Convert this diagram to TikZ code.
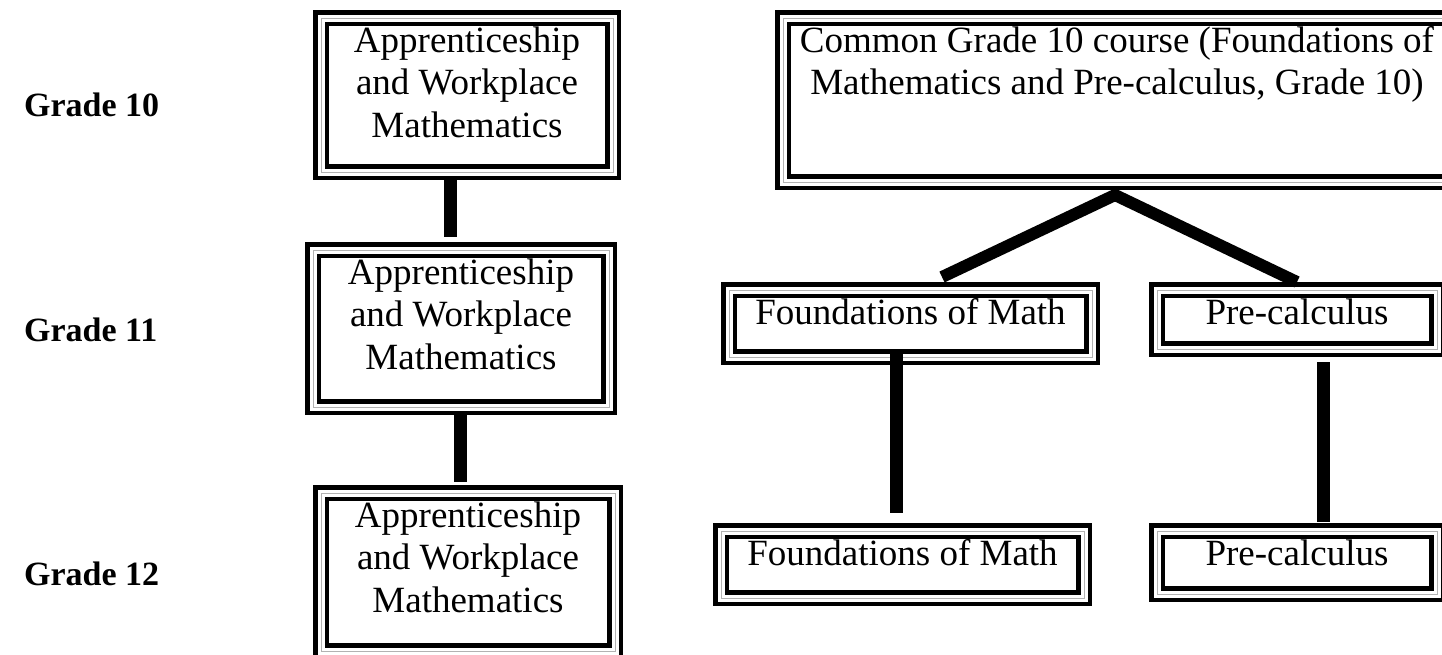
\documentclass[tikz,border=0pt]{standalone}
\usepackage{fontspec}
\setmainfont{Liberation Serif}
\usetikzlibrary{calc}
\newcommand\mystrut{\rule{0pt}{26pt}}
\begin{document}
\begin{tikzpicture}[x=1pt,y=-1pt,
  dbox/.style={draw=black, line width=4.5pt, double=white, double distance=7pt,
               rectangle, inner sep=0pt, outer sep=0pt},
  grayline/.style={draw=gray!60, line width=0.8pt},
  btext/.style={font=\fontsize{37}{42.5}\selectfont, align=center, inner sep=0pt, anchor=north},
  glabel/.style={font=\fontsize{34}{40}\selectfont\bfseries, inner sep=0pt, anchor=base west},
  conn/.style={draw=black, line width=13pt},
]
\useasboundingbox (0,0) rectangle (1442,654);
\clip (0,0) rectangle (1442,654);
\fill[white] (0,0) rectangle (1442,654);

% grade labels
\node[glabel] (g10) at (24,116) {Grade 10};
\node[glabel] (g11) at (24,341) {Grade 11};
\node[glabel] (g12) at (24,585) {Grade 12};

% boxes
\node[dbox, minimum width=292pt, minimum height=154pt] (a1) at (467,95) {};
\node[dbox, minimum width=296pt, minimum height=157pt] (a2) at (461,328.5) {};
\node[dbox, minimum width=294pt, minimum height=158pt] (a3) at (468,572) {};
\node[dbox, minimum width=668pt, minimum height=164pt] (cm) at (1117,100) {};
\node[dbox, minimum width=363pt, minimum height=67pt] (f11) at (910.5,323.5) {};
\node[dbox, minimum width=280pt, minimum height=59pt] (p11) at (1297,319.5) {};
\node[dbox, minimum width=363pt, minimum height=67pt] (f12) at (902.5,564.5) {};
\node[dbox, minimum width=280pt, minimum height=63pt] (p12) at (1297,562.5) {};

\foreach \n in {a1,a2,a3,cm,f11,p11,f12,p12}
  \draw[grayline] (\n.south west) rectangle (\n.north east);

% texts
\node[btext] (a1t) at ([yshift=-8pt]a1.north) {\mystrut Apprenticeship\\and Workplace\\Mathematics};
\node[btext] (a2t) at ([yshift=-8pt]a2.north) {\mystrut Apprenticeship\\and Workplace\\Mathematics};
\node[btext] (a3t) at ([yshift=-8pt]a3.north) {\mystrut Apprenticeship\\and Workplace\\Mathematics};
\node[btext] (cmt) at ([yshift=-8pt]cm.north) {\mystrut Common Grade 10 course (Foundations of\\Mathematics and Pre-calculus, Grade 10)};
\node[btext] (f11t) at ([yshift=-8pt]f11.north) {\mystrut Foundations of Math};
\node[btext] (p11t) at ([yshift=-8pt]p11.north) {\mystrut Pre-calculus};
\node[btext] (f12t) at ([yshift=-8pt]f12.north) {\mystrut Foundations of Math};
\node[btext] (p12t) at ([yshift=-8pt]p12.north) {\mystrut Pre-calculus};

% connectors
\draw[conn, shorten <=8pt, shorten >=13pt] ([xshift=-17pt]a1.south) -- ([xshift=-11pt]a2.north);
\draw[conn, shorten <=8pt, shorten >=11pt] ([xshift=-1pt]a2.south) -- ([xshift=-8pt]a3.north);
\draw[conn, line width=12pt, line join=miter]
  ([xshift=31.5pt,yshift=13pt]f11.north) -- ([xshift=-2pt,yshift=-13pt]cm.south) -- ([yshift=8pt]p11.north);
\draw[conn, shorten <=-7pt, shorten >=18pt] ([xshift=-14.5pt]f11.south) -- ([xshift=-6.5pt]f12.north);
\draw[conn, shorten <=13pt, shorten >=9pt] ([xshift=26pt]p11.south) -- ([xshift=26pt]p12.north);
\end{tikzpicture}
\end{document}
